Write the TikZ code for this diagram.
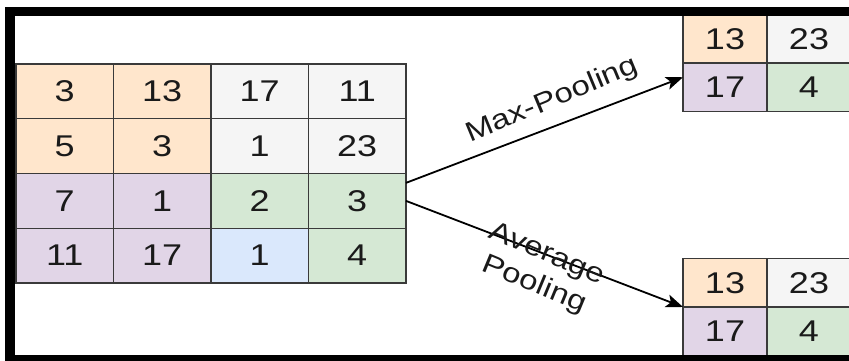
\documentclass[tikz,border=0pt]{standalone}
\usepackage{fontspec}
\setmainfont{Liberation Sans}
\newfontfamily\widefont[FakeStretch=1.2]{Liberation Sans}
\usetikzlibrary{arrows.meta}

\definecolor{cOrange}{HTML}{FFE6CC}
\definecolor{cGray}{HTML}{F5F5F5}
\definecolor{cPurple}{HTML}{E1D5E7}
\definecolor{cGreen}{HTML}{D5E8D4}
\definecolor{cBlue}{HTML}{DAE8FC}
\definecolor{cellLine}{HTML}{3A3A3A}
\definecolor{txt}{HTML}{1A1A1A}

\begin{document}
\begin{tikzpicture}[x=1pt,y=-1pt,
  cellbase/.style={draw=cellLine, line width=1.3pt, inner sep=0pt, outer sep=0pt,
    font=\widefont\fontsize{30}{34}\selectfont, text=txt},
  bigcell/.style={cellbase, minimum width=97.5pt, minimum height=54.75pt},
  smallcell/.style={cellbase, minimum width=84pt, minimum height=48.5pt},
  lbl/.style={font=\widefont\fontsize{27.5}{33}\selectfont, text=txt, inner sep=0pt},
  pool/.style={line width=1.8pt, -{Stealth[length=17pt,width=13pt,inset=4pt]}},
  framebar/.style={fill=black, draw=none}]

\useasboundingbox (0,0) rectangle (849,361);
\clip (0,0) rectangle (849,361);

% 4x4 input feature map
\node[bigcell, fill=cOrange] (c11) at (64.75,91.375)  {3};
\node[bigcell, fill=cOrange] (c12) at (162.25,91.375) {13};
\node[bigcell, fill=cGray]   (c13) at (259.75,91.375) {17};
\node[bigcell, fill=cGray]   (c14) at (357.25,91.375) {11};

\node[bigcell, fill=cOrange] (c21) at (64.75,146.125)  {5};
\node[bigcell, fill=cOrange] (c22) at (162.25,146.125) {3};
\node[bigcell, fill=cGray]   (c23) at (259.75,146.125) {1};
\node[bigcell, fill=cGray]   (c24) at (357.25,146.125) {23};

\node[bigcell, fill=cPurple] (c31) at (64.75,200.875)  {7};
\node[bigcell, fill=cPurple] (c32) at (162.25,200.875) {1};
\node[bigcell, fill=cGreen]  (c33) at (259.75,200.875) {2};
\node[bigcell, fill=cGreen]  (c34) at (357.25,200.875) {3};

\node[bigcell, fill=cPurple] (c41) at (64.75,255.625)  {11};
\node[bigcell, fill=cPurple] (c42) at (162.25,255.625) {17};
\node[bigcell, fill=cBlue]   (c43) at (259.75,255.625) {1};
\node[bigcell, fill=cGreen]  (c44) at (357.25,255.625) {4};

% 2x2 result of max pooling
\node[smallcell, fill=cOrange] (t11) at (725,38.75) {13};
\node[smallcell, fill=cGray]   (t12) at (809,38.75) {23};
\node[smallcell, fill=cPurple] (t21) at (725,87.25) {17};
\node[smallcell, fill=cGreen]  (t22) at (809,87.25) {4};

% 2x2 result of average pooling
\node[smallcell, fill=cOrange] (b11) at (725,282.75) {13};
\node[smallcell, fill=cGray]   (b12) at (809,282.75) {23};
\node[smallcell, fill=cPurple] (b21) at (725,331.25) {17};
\node[smallcell, fill=cGreen]  (b22) at (809,331.25) {4};

% pooling connectors
\draw[pool] ([yshift=18pt]c34.east) -- ([yshift=10pt]t21.west);
\draw[pool] (c34.east) -- (b21.north west);

\node[lbl, rotate=22.5, anchor=base] (maxlbl) at (555,107) {Max-Pooling};
\node[lbl, rotate=-22.5, align=center] (avglbl) at (540,270) {Average\\Pooling};

% black frame
\fill[framebar] (5,7) rectangle (849,16);
\fill[framebar] (5,7) rectangle (15,361);
\fill[framebar] (5,355) rectangle (849,361);
\end{tikzpicture}
\end{document}
